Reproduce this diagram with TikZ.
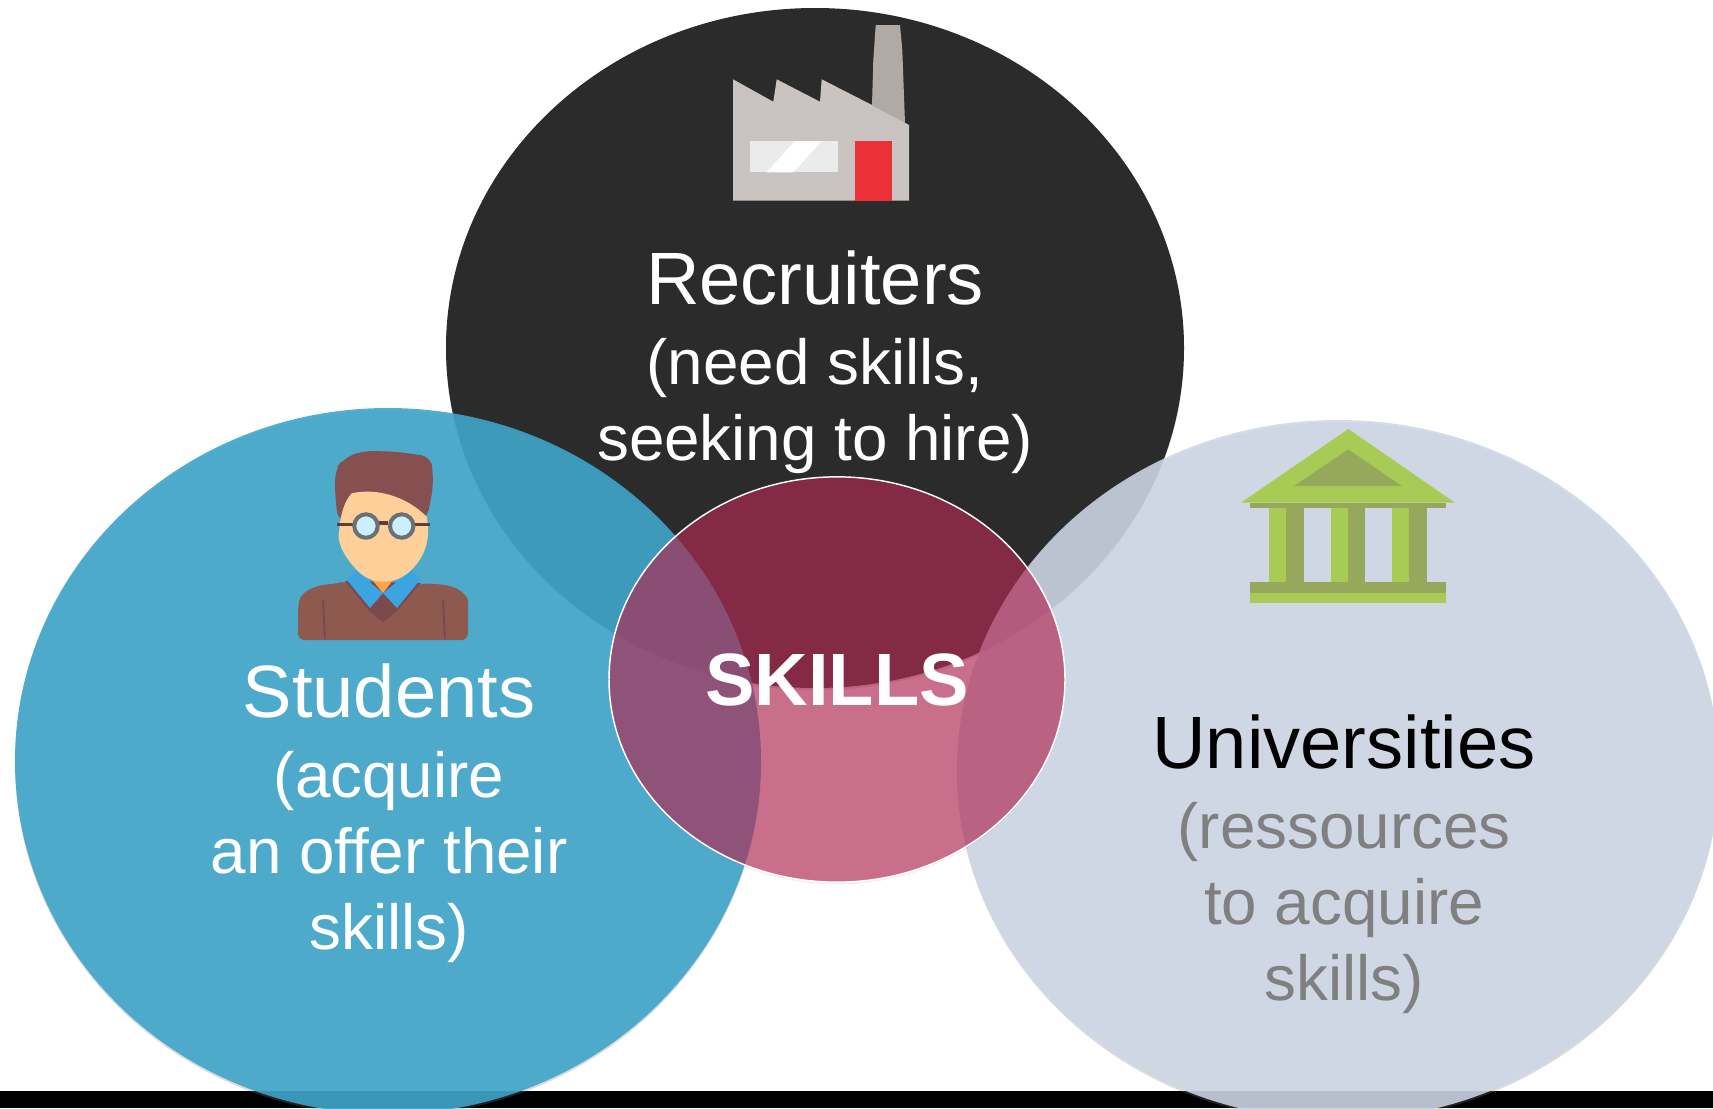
\documentclass[tikz,border=0pt]{standalone}
\usepackage{fontspec}
\setmainfont{Liberation Sans}
\usetikzlibrary{positioning,shapes.geometric,shadows}
\definecolor{darkdisc}{HTML}{2B2B2B}
\definecolor{bluedisc}{HTML}{3DA5CA}
\definecolor{paledisc}{HTML}{CED7E7}
\definecolor{reddisc}{HTML}{B32551}
\definecolor{wallgrey}{HTML}{C9C4C1}
\definecolor{stackgrey}{HTML}{B0AAA6}
\definecolor{doorred}{HTML}{EC3038}
\definecolor{hairbrown}{HTML}{85504F}
\definecolor{skintone}{HTML}{FDD09A}
\definecolor{collarblue}{HTML}{3AA5E0}
\definecolor{jumperbrown}{HTML}{8E5A50}
\definecolor{jumperdark}{HTML}{7A4A4C}
\definecolor{lensrim}{HTML}{6B6F78}
\definecolor{lightgreen}{HTML}{A8CB55}
\definecolor{darkgreen}{HTML}{96A85C}

\begin{document}
\begin{tikzpicture}[x=.75pt,y=-.75pt,
	cdisc/.style={ellipse,inner sep=0pt,drop shadow={shadow xshift=0pt,shadow yshift=-1.6pt,opacity=.28}},
	ctitle/.style={inner sep=0pt,anchor=base,font=\fontsize{55.6}{60}\selectfont},
	cnote/.style={inner sep=0pt,align=center,font=\fontsize{47.8}{57}\selectfont},
	node distance = 25pt]
	\useasboundingbox (0,0) rectangle (1713,1108);
	\fill[white] (0,0) rectangle (1713,1108);
	\fill[black] (0,1091) rectangle (1713,1108);

	% the three large discs and the one in the middle
	\node[cdisc,fill=darkdisc,minimum width=553.5pt,minimum height=510pt] (recruiters) at (815,348) {};
	\node[cdisc,fill=bluedisc,fill opacity=.89,minimum width=559.5pt,minimum height=529.5pt] (students) at (388,761) {};
	\node[cdisc,fill=paledisc,fill opacity=.87,minimum width=571.5pt,minimum height=525pt] (universities) at (1338,770) {};
	\node[ellipse,inner sep=0pt,drop shadow={shadow xshift=0pt,shadow yshift=-1.6pt,opacity=.12},fill=reddisc,fill opacity=.63,draw=white,draw opacity=1,line width=1.1pt,minimum width=342pt,minimum height=304pt] (skills) at (837,679.5) {};

	% factory
	\fill[stackgrey] (875.7,25) -- (900,25) -- (902.3,50) -- (905,123) -- (872,105) -- (873.3,60) -- cycle;
	\fill[wallgrey] (733,79.3) -- (773.3,101.7) -- (776.7,79.3) -- (820,101.7) -- (821.7,79.3) -- (872,105) -- (909,125) -- (909,200.7) -- (733,200.7) -- cycle;
	\fill[black!8] (750,141) rectangle (838.3,172.3);
	\fill[white] (766.7,172.3) -- (795,141) -- (821.7,141) -- (793.3,172.3) -- cycle;
	\fill[doorred] (855,141) rectangle (892.3,200.7);

	% student
	\fill[jumperbrown,rounded corners=5pt] (298,640) -- (298,607) .. controls (301,592) and (315,585) .. (335,584) -- (345,581) -- (383,598) -- (423,583) -- (447,585) .. controls (462,590) and (468,598) .. (468,607) -- (468,640) -- cycle;
	\fill[jumperdark] (345,581) -- (370,612) -- (383,622) -- (396,612) -- (421,583) -- cycle;
	\draw[jumperdark,line width=1.5pt] (323,600) -- (325,639);
	\draw[jumperdark,line width=1.5pt] (443,600) -- (445,639);
	\fill[orange!55!skintone] (368,575) -- (397,575) -- (383,593) -- cycle;
	\fill[collarblue] (355,570) -- (383,593) -- (370,608) -- (347,580) -- cycle;
	\fill[collarblue] (412,570) -- (420,580) -- (397,608) -- (383,593) -- cycle;
	\fill[hairbrown,rounded corners=8pt] (363.3,450.7) -- (396.7,451.7) -- (431.7,456.7) -- (433.3,486.7) -- (426.7,520) -- (338,522) -- (335,493.3) -- (335,470) -- (343.3,458.3) -- cycle;
	\fill[skintone] (351.7,493.3) .. controls (375,488) and (405,495) .. (426.7,516.7) .. controls (430,535) and (428,552) .. (413.3,568) .. controls (405,577) and (395,581.7) .. (383.3,581.7) .. controls (372,581.7) and (363,577) .. (355,568) .. controls (343,555) and (336,540) .. (339.3,530) .. controls (340,515) and (345,500) .. (351.7,493.3) -- cycle;
	\draw[jumperdark!80!black,line width=2.6pt] (337,524.3) -- (353,524.3) (415,524.3) -- (430,524.3) (378,523) -- (388,523);
	\draw[lensrim,line width=3pt,fill=cyan!20!white] (366,526) circle (8.8pt);
	\draw[lensrim,line width=3pt,fill=cyan!20!white] (401.7,526) circle (8.8pt);

	% columned building
	\fill[lightgreen] (1348.3,429) -- (1455,502.7) -- (1241,502.7) -- cycle;
	\fill[darkgreen] (1348.3,449.3) -- (1401.7,486) -- (1294,486) -- cycle;
	\fill[darkgreen] (1250,502.7) rectangle (1446,508.3);
	\foreach \colx in {1269.3,1331,1392.3} {
		\fill[lightgreen] (\colx,508.3) rectangle ++(17,74);
		\fill[darkgreen] (\colx+17,508.3) rectangle ++(17.3,74);
	}
	\fill[darkgreen] (1250,582) rectangle (1446,592.7);
	\fill[lightgreen] (1250,592.7) rectangle (1446,602.7);

	% labels
	\node[ctitle,text=white] (recruiterstitle) at (815,304) {Recruiters};
	\node[cnote,text=white] (recruitersnote) [below = of recruiterstitle] {(need skills,\\seeking to hire)};
	\node[ctitle,text=white] (studentstitle) at (389,717) {Students};
	\node[cnote,text=white] (studentsnote) [below = of studentstitle] {(acquire\\an offer their\\skills)};
	\node[ctitle,text=black] (universitiestitle) at (1344,768) {Universities};
	\node[cnote,text=black!50] (universitiesnote) [below = of universitiestitle] {(ressources\\to acquire\\skills)};
	\node[inner sep=0pt,anchor=base,text=white,font=\fontsize{55.6}{60}\bfseries\selectfont] (skillstitle) at (837,705) {SKILLS};
\end{tikzpicture}
\end{document}
